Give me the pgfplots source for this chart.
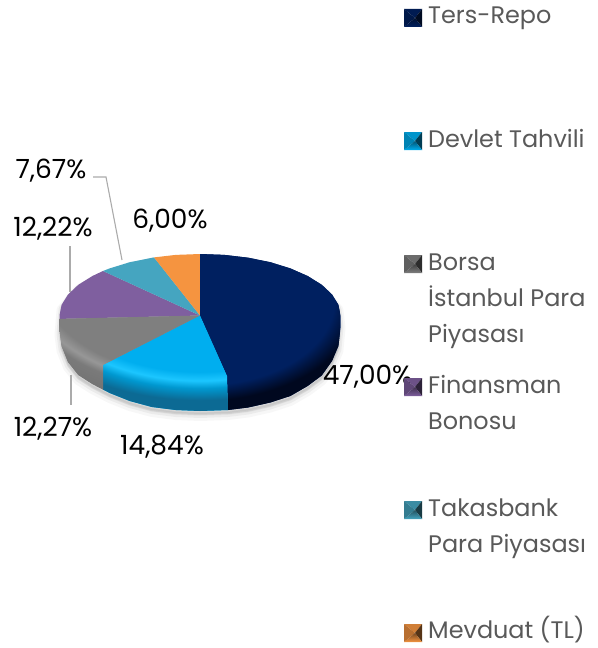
\documentclass[border=0pt]{standalone}
\usepackage{fontspec}
\setmainfont{Poppins}
\usepackage{pgfplots}
\usepackage{pgfplotstable}
\pgfplotsset{compat=1.18}

% slice colours
\definecolor{navyC}{HTML}{002060}
\definecolor{navyD}{HTML}{00081F}
\definecolor{blueC}{HTML}{00AEEF}
\definecolor{blueH}{HTML}{1CC6FF}
\definecolor{blueM}{HTML}{0098D0}
\definecolor{blueD}{HTML}{0C6A94}
\definecolor{grayC}{HTML}{7F7F7F}
\definecolor{grayH}{HTML}{979797}
\definecolor{grayM}{HTML}{7A7A7A}
\definecolor{grayD}{HTML}{707070}
\definecolor{purpC}{HTML}{7F5F9F}
\definecolor{tealC}{HTML}{45A5C0}
\definecolor{orngC}{HTML}{F59440}
\definecolor{legtxt}{HTML}{595959}
\definecolor{leader}{HTML}{ABABAB}

% rim shadings, 25bp is the edge of the shaded rectangle
\pgfdeclareradialshading{rimNavy}{\pgfpoint{0bp}{0bp}}{color(0bp)=(navyC); color(19.2bp)=(navyC); color(22.7bp)=(navyD); color(50bp)=(navyD)}
\pgfdeclareradialshading{rimBlue}{\pgfpoint{0bp}{0bp}}{color(0bp)=(blueC); color(17.8bp)=(blueC); color(19.4bp)=(blueH); color(20.8bp)=(blueM); color(23bp)=(blueD); color(50bp)=(blueD)}
\pgfdeclareradialshading{rimGray}{\pgfpoint{0bp}{0bp}}{color(0bp)=(grayC); color(18.5bp)=(grayC); color(20bp)=(grayH); color(21.2bp)=(grayM); color(25bp)=(grayD); color(50bp)=(grayD)}

% legend key: bevelled square, #1 = top y, #2 = colour
\newcommand{\swatch}[2]{%
  \fill[#2!85!black] (404,#1) -- (422,#1) -- (415,#1+9) -- cycle;
  \fill[#2!75!black] (404,#1) -- (404,#1+18) -- (415,#1+9) -- cycle;
  \fill[#2!35!black] (422,#1) -- (422,#1+18) -- (415,#1+9) -- cycle;
  \shade[top color=#2!50!black,bottom color=#2] (404,#1+18) -- (422,#1+18) -- (415,#1+9) -- cycle;
}

\pgfplotstableread{
x y
200 254
248.1 257.7
290.3 268.4
321.7 284.8
338.4 304.8
340.5 323
338.4 346
332 361
321.7 375.5
307.6 386
290.3 396
270.3 402.5
248.1 407.5
228 410
200 411
175.6 410
151.9 407
129.7 401
109.7 393
92.4 384
78.3 375
68 362
61.6 346
59.5 330
61.6 304.8
78.3 284.8
109.7 268.4
151.9 257.7
}\outline

\begin{document}
\begin{tikzpicture}
\begin{axis}[
    hide axis,
    scale only axis,
    width=598bp, height=648bp,
    xmin=0, xmax=598, ymin=0, ymax=648,
    y dir=reverse,
    clip=false,
]
\path (0,0) rectangle (598,648);

% soft shadow under the pie
\addplot[fill=black!40, draw=black!40, line width=10bp, opacity=.08, line join=round] table[x=x, y expr=\thisrow{y}+5] {\outline} -- cycle;
\addplot[fill=black!40, draw=black!40, line width=6bp, opacity=.12, line join=round] table[x=x, y expr=\thisrow{y}+4] {\outline} -- cycle;
\addplot[fill=black!40, draw=black!40, line width=2.5bp, opacity=.16, line join=round] table[x=x, y expr=\thisrow{y}+3] {\outline} -- cycle;

% slices: Ters-Repo 47,00 / Devlet 14,84 / Borsa 12,27 / Finansman 12,22 / Takasbank 7,67 / Mevduat 6,00
\addplot[fill=navyC, draw=none] coordinates {(200,315.5) (200,254) (224.4,254.9) (248.1,257.7) (270.3,262.2) (290.3,268.4) (307.6,276) (321.7,284.8) (332,294.5) (338.4,304.8) (340.5,315.5) (340.5,328) (338.4,346) (332,361) (321.7,375.5) (307.6,386) (290.3,396) (270.3,402.5) (248.1,407.5) (228,410) (227,376)};
\addplot[fill=blueC, draw=none] coordinates {(200,315.5) (227,376) (228,410) (200,411) (175.6,410) (151.9,407) (129.7,401) (109.7,393) (103,389.5) (103,365)};
\addplot[fill=grayC, draw=none] coordinates {(200,315.5) (103,365) (103,389.5) (92.4,384) (78.3,375) (68,362) (61.6,346) (59.5,330) (59.7,318.9)};
\addplot[fill=purpC, draw=none] coordinates {(200,315.5) (59.7,318.9) (59.5,315.5) (61.6,304.8) (68,294.5) (78.3,284.8) (92.4,276) (103,271)};
\addplot[fill=tealC, draw=none] coordinates {(200,315.5) (103,271) (109.7,268.4) (129.7,262.2) (154,257.4)};
\addplot[fill=orngC, draw=none] coordinates {(200,315.5) (154,257.4) (175.6,254.9) (200,254)};

% rim shading, one clip per slice
\begin{scope}
\clip plot coordinates {(200,315.5) (200,254) (224.4,254.9) (248.1,257.7) (270.3,262.2) (290.3,268.4) (307.6,276) (321.7,284.8) (332,294.5) (338.4,304.8) (340.5,315.5) (340.5,328) (338.4,346) (332,361) (321.7,375.5) (307.6,386) (290.3,396) (270.3,402.5) (248.1,407.5) (228,410) (227,376)} -- cycle;
\shade[shading=rimNavy] (25,189) rectangle (375,411);
\end{scope}
\begin{scope}
\clip plot coordinates {(200,315.5) (227,376) (228,410) (200,411) (175.6,410) (151.9,407) (129.7,401) (109.7,393) (103,389.5) (103,365)} -- cycle;
\shade[shading=rimBlue] (-18,139) rectangle (418,411);
\end{scope}
\begin{scope}
\clip plot coordinates {(200,315.5) (103,365) (103,389.5) (92.4,384) (78.3,375) (68,362) (61.6,346) (59.5,330) (59.7,318.9)} -- cycle;
\shade[shading=rimGray] (-18,139) rectangle (418,411);
\end{scope}

% leader lines
\addplot[leader, line width=1.1bp] coordinates {(93,177) (106,177) (122,260)};
\addplot[leader, line width=1.1bp] coordinates {(70,246) (70,292)};
\addplot[leader, line width=1.1bp] coordinates {(71,375) (71,405)};

% value labels
\begin{scope}[every node/.style={font=\fontsize{26.5}{26.5}\selectfont, text=black, inner sep=0pt}]
\node at (51,170.5) {7,67\%};
\node at (53,229) {12,22\%};
\node at (170,221) {6,00\%};
\node at (367.5,377) {47,00\%};
\node at (162,447) {14,84\%};
\node at (53,429) {12,27\%};
\end{scope}

% legend
\swatch{9}{navyC}
\swatch{132}{blueC}
\swatch{255}{grayC}
\swatch{378}{purpC}
\swatch{501}{tealC}
\swatch{624}{orngC}
\begin{scope}[every node/.style={font=\fontsize{24}{24}\selectfont, text=legtxt, inner sep=0pt, anchor=base west}]
\node at (428,24) {Ters-Repo};
\node at (428,147) {Devlet Tahvili};
\node at (428,270.5) {Borsa};
\node at (428,306.5) {İstanbul Para};
\node at (428,342.5) {Piyasası};
\node at (428,393) {Finansman};
\node at (428,429) {Bonosu};
\node at (428,516.5) {Takasbank};
\node at (428,552.5) {Para Piyasası};
\node at (428,638.5) {Mevduat (TL)};
\end{scope}
\end{axis}
\end{tikzpicture}
\end{document}
